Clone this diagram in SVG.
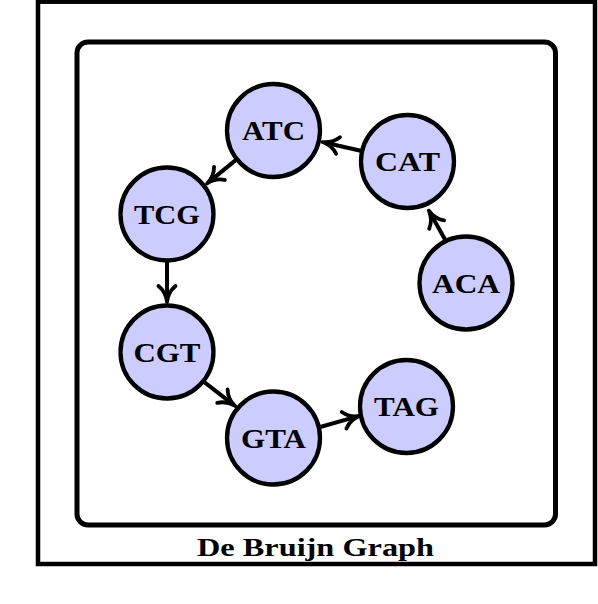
<svg xmlns="http://www.w3.org/2000/svg" width="598" height="604" viewBox="0 0 598 604">
<style>
.node circle{fill:#ccccff;stroke:#000;stroke-width:4.3}
.node text{font-family:"Liberation Serif","DejaVu Serif",serif;font-weight:bold;font-size:27px;text-anchor:middle;fill:#000}
.edge{stroke:#000;stroke-width:4;fill:none;marker-end:url(#arr)}
.frame{fill:none;stroke:#000}
.caption{font-family:"Liberation Serif","DejaVu Serif",serif;font-weight:bold;font-size:26px;text-anchor:middle;fill:#000}
</style>
<defs>
<marker id="arr" markerUnits="userSpaceOnUse" markerWidth="30" markerHeight="30" viewBox="-20 -15 30 30" refX="0" refY="0" orient="auto" overflow="visible">
<path d="M -13,-8.5 C -8.5,-3 -2,-0.5 3,0 C -2,0.5 -8.5,3 -13,8.5" fill="none" stroke="#000" stroke-width="3.8" stroke-linecap="round" stroke-linejoin="round"/>
</marker>
</defs>
<rect id="outer-frame" class="frame" x="38" y="1.7" width="557" height="562.3" stroke-width="4.5"/>
<rect id="inner-frame" class="frame" x="77" y="42" width="478.5" height="483" rx="11" stroke-width="5"/>
<text id="caption" class="caption" x="315.5" y="556" textLength="237" lengthAdjust="spacingAndGlyphs">De Bruijn Graph</text>
<g id="connectors">
<line class="edge" x1="445.2" y1="239.8" x2="430.3" y2="213.2"/>
<line class="edge" x1="360.7" y1="150.7" x2="325.4" y2="142.7"/>
<line class="edge" x1="235.7" y1="160.1" x2="209.4" y2="181.6"/>
<line class="edge" x1="167" y1="262" x2="167" y2="299"/>
<line class="edge" x1="204.3" y1="382.2" x2="232.7" y2="404.1"/>
<line class="edge" x1="320.2" y1="427" x2="356.6" y2="416.7"/>
</g>
<g id="node-ATC" class="node"><circle cx="273.5" cy="130.5" r="46.5"/><text x="273.5" y="140" textLength="63" lengthAdjust="spacingAndGlyphs">ATC</text></g>
<g id="node-CAT" class="node"><circle cx="407.5" cy="161.5" r="46.5"/><text x="407.5" y="171" textLength="65" lengthAdjust="spacingAndGlyphs">CAT</text></g>
<g id="node-ACA" class="node"><circle cx="466" cy="283" r="46.5"/><text x="466" y="292.5" textLength="68" lengthAdjust="spacingAndGlyphs">ACA</text></g>
<g id="node-TCG" class="node"><circle cx="167" cy="214" r="46.5"/><text x="167" y="223.5" textLength="66" lengthAdjust="spacingAndGlyphs">TCG</text></g>
<g id="node-CGT" class="node"><circle cx="167" cy="352" r="46.5"/><text x="167" y="361.5" textLength="67" lengthAdjust="spacingAndGlyphs">CGT</text></g>
<g id="node-GTA" class="node"><circle cx="273.5" cy="438" r="46.5"/><text x="273.5" y="447.5" textLength="65" lengthAdjust="spacingAndGlyphs">GTA</text></g>
<g id="node-TAG" class="node"><circle cx="406.5" cy="406.5" r="46.5"/><text x="406.5" y="416" textLength="65" lengthAdjust="spacingAndGlyphs">TAG</text></g>
</svg>
